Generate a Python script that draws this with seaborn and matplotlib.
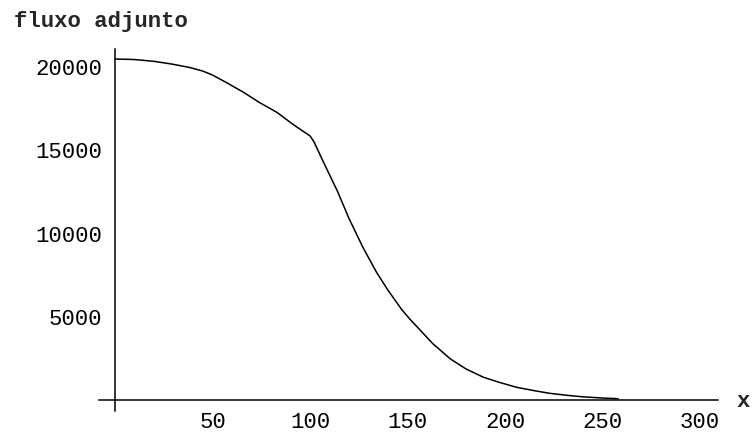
import matplotlib
matplotlib.use('Agg')
import matplotlib.pyplot as plt
import seaborn as sns
import pandas as pd

# Curve
x_vals = [0, 10, 20, 29, 38, 45, 50, 57, 66, 74, 83, 91, 98, 100, 102, 104, 107,
          114, 120, 127, 134, 140, 147, 151, 155, 163, 172, 180, 189, 197, 206,
          215, 223, 232, 240, 250, 258]
flux_vals = [20400, 20370, 20260, 20100, 19900, 19680, 19440, 19000, 18400, 17800,
             17210, 16510, 15950, 15800, 15450, 14950, 14200, 12500, 10850, 9150,
             7650, 6550, 5400, 4850, 4350, 3350, 2440, 1840, 1340, 1040, 740, 540,
             380, 260, 170, 100, 60]

x_ticks = [50, 100, 150, 200, 250, 300]
y_ticks = [5000, 10000, 15000, 20000]

df = pd.DataFrame({'x': x_vals, 'fluxo': flux_vals})

sns.set_style('white')
plt.rcParams['font.family'] = ['Liberation Mono', 'DejaVu Sans']

fig = plt.figure(figsize=(7.52, 4.39), dpi=100)
ax = fig.add_axes([99 / 752, 27 / 439, 619 / 752, 362 / 439])

sns.lineplot(data=df, x='x', y='fluxo', ax=ax, color='black', linewidth=1.1)

ax.set_xlim(-8.2, 309.2)
ax.set_ylim(-677, 21000)

# Mathematica-style axes crossing at the origin
ax.spines['left'].set_position(('data', 0))
ax.spines['bottom'].set_position(('data', 0))
ax.spines['top'].set_visible(False)
ax.spines['right'].set_visible(False)
for s in ['left', 'bottom']:
    ax.spines[s].set_color('black')
    ax.spines[s].set_linewidth(1.1)

ax.set_xticks(x_ticks)
ax.set_yticks(y_ticks)
ax.set_xticklabels([str(t) for t in x_ticks])
ax.set_yticklabels([str(t) for t in y_ticks])
ax.tick_params(axis='both', direction='in', length=3, width=1, colors='black',
               labelsize=16)
ax.tick_params(axis='x', pad=8)
ax.tick_params(axis='y', pad=9)
ax.set_xlabel('')
ax.set_ylabel('')

fig.text(14 / 752, 1 - 22 / 439, 'fluxo adjunto', fontsize=16, fontweight='bold',
         va='center', ha='left')
fig.text(736 / 752, 1 - 402 / 439, 'x', fontsize=16, fontweight='bold',
         va='center', ha='left')

fig.savefig('out.png', dpi=100)
